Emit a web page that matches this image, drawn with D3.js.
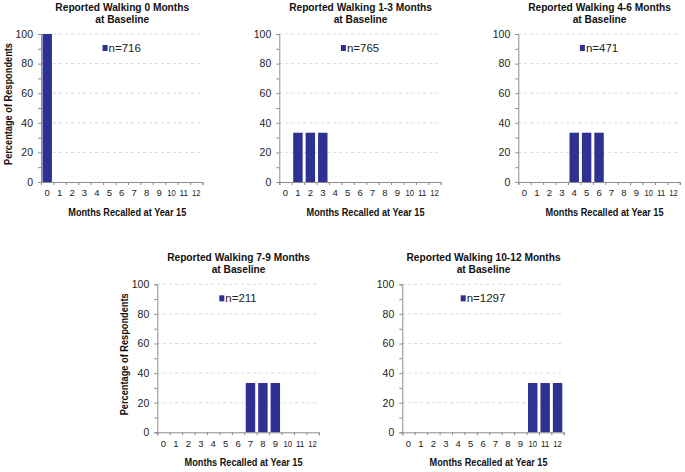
<!DOCTYPE html>
<html><head><meta charset="utf-8">
<script src="https://cdn.jsdelivr.net/npm/d3@7/dist/d3.min.js"></script>
<style>
html,body{margin:0;padding:0;background:#fff;}
svg{display:block;font-family:"Liberation Sans",Arial,sans-serif;}
</style></head>
<body>
<svg id="chart" width="685" height="472"></svg>
<script>
const categories = ["0","1","2","3","4","5","6","7","8","9","10","11","12"];
const panelTitles = [
  ["Reported Walking 0 Months","at Baseline"],
  ["Reported Walking 1-3 Months","at Baseline"],
  ["Reported Walking 4-6 Months","at Baseline"],
  ["Reported Walking 7-9 Months","at Baseline"],
  ["Reported Walking 10-12 Months","at Baseline"]
];
const sampleSizes = [716, 765, 471, 211, 1297];
const walk0 =    [100,0,0,0,0,0,0,0,0,0,0,0,0];
const walk1to3 = [0,33.3,33.3,33.3,0,0,0,0,0,0,0,0,0];
const walk4to6 = [0,0,0,0,33.3,33.3,33.3,0,0,0,0,0,0];
const walk7to9 = [0,0,0,0,0,0,0,33.3,33.3,33.3,0,0,0];
const walk10to12=[0,0,0,0,0,0,0,0,0,0,33.3,33.3,33.3];
const seriesValues = [walk0, walk1to3, walk4to6, walk7to9, walk10to12];
const yTicks = [0,10,20,30,40,50,60,70,80,90,100];
const yLabel = "Percentage of Respondents";
const xLabel = "Months Recalled at Year 15";

const layout = [
  {left:41, top:34, ytitle:true},
  {left:279.3, top:34, ytitle:false},
  {left:518.3, top:34, ytitle:false},
  {left:157.3, top:284.3, ytitle:true},
  {left:402.3, top:284.3, ytitle:false}
];
const W = 161.5, H = 148;
const barColor = "#2e3192";
const axisColor = "#8c8c8c";

const svg = d3.select("#chart");

seriesValues.forEach((vals, i) => {
  const L = layout[i];
  const g = svg.append("g").attr("transform", `translate(${L.left},${L.top})`);
  const x = d3.scaleBand().domain(categories).range([0, W]).paddingInner(0.24).paddingOuter(0.12);
  const xb = d3.scaleLinear().domain([0, categories.length]).range([0, W]);
  const y = d3.scaleLinear().domain([0, 100]).range([H, 0]);

  // grid
  g.append("g").selectAll("line").data([20,40,60,80,100]).join("line")
    .attr("x1", 0).attr("x2", W).attr("y1", d => y(d)).attr("y2", d => y(d))
    .attr("stroke", "#cfcfcf").attr("stroke-width", 0.8).attr("stroke-dasharray", "3,3");

  // bars
  g.append("g").selectAll("rect").data(vals.map((v, k) => ({c: categories[k], v})).filter(d => d.v > 0)).join("rect")
    .attr("x", d => x(d.c)).attr("width", x.bandwidth())
    .attr("y", d => y(d.v)).attr("height", d => H - y(d.v))
    .attr("fill", barColor);

  // y axis
  const ya = g.append("g").call(d3.axisLeft(y).tickValues(yTicks).tickSize(3).tickPadding(5)
      .tickFormat(d => d % 20 === 0 ? d : ""));
  ya.select(".domain").attr("stroke", axisColor);
  ya.selectAll(".tick line").attr("stroke", axisColor);
  ya.selectAll("text").attr("font-size", 10.5).attr("fill", "#222").attr("font-family", "Liberation Sans, Arial, sans-serif");

  // x axis boundary ticks
  const xt = g.append("g").attr("transform", `translate(0,${H})`)
    .call(d3.axisBottom(xb).tickValues(d3.range(categories.length + 1)).tickSize(3).tickFormat(""));
  xt.select(".domain").attr("stroke", axisColor);
  xt.selectAll(".tick line").attr("stroke", axisColor);

  // x labels
  const xl = g.append("g").attr("transform", `translate(0,${H})`)
    .call(d3.axisBottom(x).tickSize(0).tickPadding(7.5));
  xl.select(".domain").remove();
  xl.selectAll("text").attr("font-size", 9.5).attr("fill", "#222").attr("font-family", "Liberation Sans, Arial, sans-serif")
    .attr("textLength", d => d.length > 1 ? 8.5 : null).attr("lengthAdjust", "spacingAndGlyphs");

  // titles
  const t = g.append("text").attr("x", W / 2).attr("text-anchor", "middle")
    .attr("font-size", 10.2).attr("font-weight", "bold").attr("fill", "#111");
  t.selectAll("tspan").data(panelTitles[i]).join("tspan")
    .attr("x", W / 2 + 0.5).attr("y", (d, k) => -23 + k * 12).text(d => d);

  // x title
  g.append("text").attr("x", W / 2 + 5.5 - 59).attr("y", H + 33.8)
    .attr("font-size", 10.3).attr("font-weight", "bold").attr("fill", "#111")
    .attr("textLength", 118).attr("lengthAdjust", "spacingAndGlyphs").text(xLabel);

  // y title
  if (L.ytitle) {
    g.append("text").attr("transform", `translate(${-29},${H / 2 - 4 + 61}) rotate(-90)`)
      .attr("font-size", 10.5).attr("font-weight", "bold")
      .attr("textLength", 122).attr("lengthAdjust", "spacingAndGlyphs")
      .attr("fill", "#111").text(yLabel);
  }

  // legend
  const lg = g.append("g");
  lg.append("rect").attr("width", 5).attr("height", 6).attr("y", -3).attr("fill", barColor);
  lg.append("text").attr("x", 6).attr("y", 4).attr("font-size", 11.5).attr("fill", "#222").text("n=" + sampleSizes[i]);
  const bb = lg.node().getBBox();
  lg.attr("transform", `translate(${W / 2 - bb.width / 2},${14})`);
});
</script>
</body></html>
